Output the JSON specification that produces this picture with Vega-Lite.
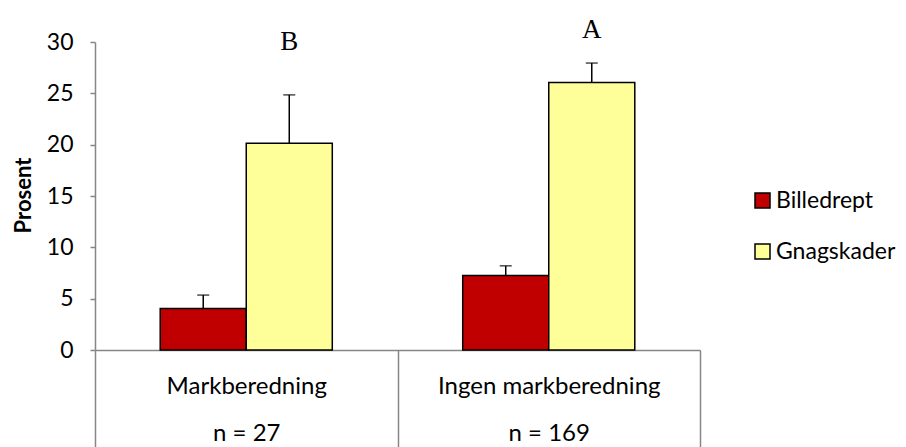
{
  "$schema": "https://vega.github.io/schema/vega-lite/v6.json",
  "autosize": "none",
  "width": 605,
  "height": 308,
  "padding": {"left": 95, "top": 42, "right": 206, "bottom": 97},
  "background": "white",
  "config": {"view": {"stroke": null}, "font": "Lato"},
  "datasets": {
    "bars": [
      {"behandling": "Markberedning", "skade": "Billedrept", "prosent": 4.05, "ovre": 5.35},
      {"behandling": "Markberedning", "skade": "Gnagskader", "prosent": 20.15, "ovre": 24.85},
      {"behandling": "Ingen markberedning", "skade": "Billedrept", "prosent": 7.25, "ovre": 8.2},
      {"behandling": "Ingen markberedning", "skade": "Gnagskader", "prosent": 26.05, "ovre": 27.95}
    ],
    "bokstaver": [
      {"behandling": "Markberedning", "skade": "Gnagskader", "y": 30.0, "bokstav": "B"},
      {"behandling": "Ingen markberedning", "skade": "Gnagskader", "y": 31.2, "bokstav": "A"}
    ]
  },
  "encoding": {
    "x": {
      "field": "behandling",
      "type": "nominal",
      "sort": ["Markberedning", "Ingen markberedning"],
      "scale": {"paddingInner": 0, "paddingOuter": 0},
      "axis": {
        "title": null,
        "domainColor": "#868686",
        "domainWidth": 1.5,
        "tickColor": "#868686",
        "tickWidth": 1.5,
        "tickSize": 97,
        "tickBand": "extent",
        "labelAngle": 0,
        "labelFont": "Lato",
        "labelFontSize": 24,
        "labelColor": "black",
        "labelBaseline": "middle",
        "labelPadding": -61,
        "labelLineHeight": 47,
        "labelLimit": 0,
        "labelExpr": "datum.label == 'Markberedning' ? ['Markberedning', 'n = 27'] : (datum.label == 'Ingen markberedning' ? ['Ingen markberedning', 'n = 169'] : '')"
      }
    },
    "xOffset": {
      "field": "skade",
      "type": "nominal",
      "sort": ["Billedrept", "Gnagskader"],
      "scale": {"paddingInner": 0, "paddingOuter": 0.758}
    }
  },
  "layer": [
    {
      "data": {"name": "bars"},
      "mark": {"type": "bar", "stroke": "black", "strokeWidth": 1.5},
      "encoding": {
        "y": {
          "field": "prosent",
          "type": "quantitative",
          "scale": {"domain": [0, 30], "nice": false},
          "axis": {
            "values": [0, 5, 10, 15, 20, 25, 30],
            "grid": false,
            "domainColor": "#868686",
            "domainWidth": 1.5,
            "tickColor": "#868686",
            "tickWidth": 1.5,
            "tickSize": 5,
            "labelPadding": 17,
            "labelFont": "Lato",
            "labelFontSize": 23,
            "labelColor": "black",
            "title": "Prosent",
            "titleFont": "Lato",
            "titleFontSize": 22,
            "titleFontWeight": "bold",
            "titleColor": "black",
            "titleX": -72,
            "titleY": 153,
            "titleAngle": -90,
            "titleAlign": "center",
            "titleBaseline": "middle"
          }
        },
        "fill": {
          "field": "skade",
          "type": "nominal",
          "scale": {"domain": ["Billedrept", "Gnagskader"], "range": ["#C00000", "#FFFF99"]},
          "legend": {
            "title": null,
            "orient": "none",
            "legendX": 656,
            "legendY": 147,
            "symbolType": "square",
            "symbolSize": 225,
            "symbolStrokeColor": "black",
            "symbolStrokeWidth": 1.5,
            "symbolOpacity": 1,
            "labelFont": "Lato",
            "labelFontSize": 23,
            "labelColor": "black",
            "labelOffset": 2,
            "labelLimit": 0,
            "rowPadding": 27
          }
        }
      }
    },
    {
      "data": {"name": "bars"},
      "mark": {"type": "rule", "color": "black", "strokeWidth": 1.5},
      "encoding": {
        "y": {"field": "prosent", "type": "quantitative"},
        "y2": {"field": "ovre"}
      }
    },
    {
      "data": {"name": "bars"},
      "mark": {"type": "tick", "color": "black", "thickness": 1.5, "size": 12},
      "encoding": {
        "y": {"field": "ovre", "type": "quantitative"}
      }
    },
    {
      "data": {"name": "bokstaver"},
      "mark": {"type": "text", "font": "Liberation Serif", "fontSize": 27, "color": "black", "baseline": "middle", "align": "center", "clip": false},
      "encoding": {
        "y": {"field": "y", "type": "quantitative"},
        "text": {"field": "bokstav"}
      }
    }
  ]
}
